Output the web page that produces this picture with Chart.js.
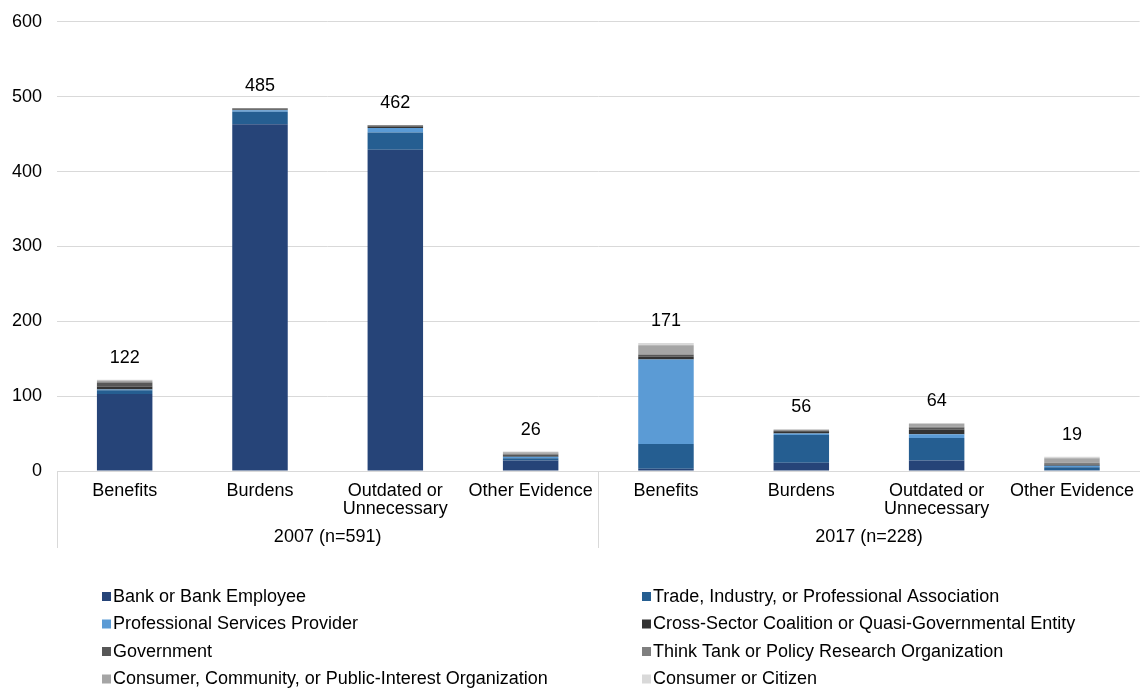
<!DOCTYPE html>
<html>
<head>
<meta charset="utf-8">
<script src="https://cdn.jsdelivr.net/npm/chart.js"></script>
<style>
  html, body { margin: 0; padding: 0; background: #fff; overflow: hidden; }
  #wrap { width: 1145px; height: 695px; position: relative; margin-top: -4px; }
</style>
</head>
<body>
<div id="wrap"><canvas id="grafico"></canvas></div>
<script>
// categorias y grupos
const categorias = ['Benefits', 'Burdens', ['Outdated or', 'Unnecessary'], 'Other Evidence',
                    'Benefits', 'Burdens', ['Outdated or', 'Unnecessary'], 'Other Evidence']
const grupos = ['2007 (n=591)', '2017 (n=228)']

// valores por tipo de comentarista
const banco         = [103, 463, 429, 14, 3, 11, 14, 1]
const asociacion    = [5, 17, 23, 3, 33, 37, 30, 4]
const servicios     = [1, 2, 6, 2, 113, 2, 5, 2]
const coalicion     = [4, 1, 2, 1, 4, 3, 6, 1]
const gobierno      = [5, 1, 1, 2, 2, 1, 3, 1]
const thinkTank     = [1, 1, 1, 1, 1, 0, 1, 2]
const consumidorOrg = [2, 0, 0, 2, 12, 1, 4, 6]
const ciudadano     = [1, 0, 0, 1, 3, 1, 1, 2]

const ticksY = [0, 100, 200, 300, 400, 500, 600]

const fuente = '"Liberation Sans", Arial, Helvetica, sans-serif'
const desplazamiento = 4 // el canvas empieza 4px por encima de la pagina

const series = [
    { label: 'Bank or Bank Employee', data: banco, color: '#264478' },
    { label: 'Trade, Industry, or Professional Association', data: asociacion, color: '#255E91' },
    { label: 'Professional Services Provider', data: servicios, color: '#5B9BD5' },
    { label: 'Cross-Sector Coalition or Quasi-Governmental Entity', data: coalicion, color: '#333333' },
    { label: 'Government', data: gobierno, color: '#575757' },
    { label: 'Think Tank or Policy Research Organization', data: thinkTank, color: '#7F7F7F' },
    { label: 'Consumer, Community, or Public-Interest Organization', data: consumidorOrg, color: '#A5A5A5' },
    { label: 'Consumer or Citizen', data: ciudadano, color: '#D9D9D9' }
]

const datasets = series.map((s) => {
    return {
        label: s.label,
        data: s.data,
        backgroundColor: s.color,
        borderWidth: 0,
        barPercentage: 0.41,
        categoryPercentage: 1
    }
})

// totales encima de cada barra, grupos, separadores y leyenda
const extras = {
    id: 'extras',
    afterDatasetsDraw(chart) {
        const ctx = chart.ctx
        const x = chart.scales.x
        const y = chart.scales.y
        const area = chart.chartArea
        const d = desplazamiento
        ctx.save()
        ctx.font = '18px ' + fuente
        ctx.fillStyle = '#000'
        ctx.textAlign = 'center'
        ctx.textBaseline = 'middle'
        categorias.forEach((c, i) => {
            let total = 0
            series.forEach((s) => { total += s.data[i] })
            ctx.fillText(String(total), x.getPixelForValue(i), y.getPixelForValue(total) - 22)
        })

        // separadores verticales
        ctx.strokeStyle = '#d9d9d9'
        ctx.lineWidth = 1
        const mitad = (x.getPixelForValue(3) + x.getPixelForValue(4)) / 2
        ;[area.left, mitad, area.right].forEach((px) => {
            const xx = Math.round(px) + 0.5
            ctx.beginPath()
            ctx.moveTo(xx, area.bottom)
            ctx.lineTo(xx, 548 + d)
            ctx.stroke()
        })

        grupos.forEach((g, j) => {
            const cx = (x.getPixelForValue(j * 4) + x.getPixelForValue(j * 4 + 3)) / 2
            ctx.fillText(g, cx, 537 + d)
        })

        // leyenda en dos columnas
        const columnas = [102, 642]
        const filas = [596, 623.5, 651, 678.5]
        series.forEach((s, i) => {
            const lx = columnas[i % 2]
            const ly = filas[Math.floor(i / 2)] + d
            ctx.fillStyle = s.color
            ctx.fillRect(lx, ly - 4, 9, 9)
            ctx.fillStyle = '#000'
            ctx.textAlign = 'left'
            ctx.fillText(s.label, lx + 11, ly + 1)
        })
        ctx.restore()
    }
}

new Chart(document.getElementById('grafico'), {
    type: 'bar',
    data: {
        labels: categorias,
        datasets: datasets
    },
    plugins: [extras],
    options: {
        responsive: true,
        maintainAspectRatio: false,
        animation: false,
        layout: { padding: { top: 8, right: 0, left: 0, bottom: 0 } },
        plugins: {
            legend: { display: false },
            tooltip: { enabled: false }
        },
        scales: {
            x: {
                stacked: true,
                grid: { display: false, drawTicks: false },
                border: { display: true, color: '#d9d9d9' },
                ticks: { color: '#000', font: { family: fuente, size: 18, lineHeight: 1.0 }, padding: 11, maxRotation: 0, autoSkip: false },
                afterFit: (s) => { s.height = 220 }
            },
            y: {
                stacked: true,
                min: 0,
                max: 600,
                afterBuildTicks: (s) => { s.ticks = ticksY.map((v) => ({ value: v })) },
                grid: { color: '#d9d9d9', drawTicks: false },
                border: { display: false },
                ticks: { color: '#000', font: { family: fuente, size: 18 }, padding: 15 },
                afterFit: (s) => { s.width = 57 }
            }
        }
    }
})
</script>
</body>
</html>
